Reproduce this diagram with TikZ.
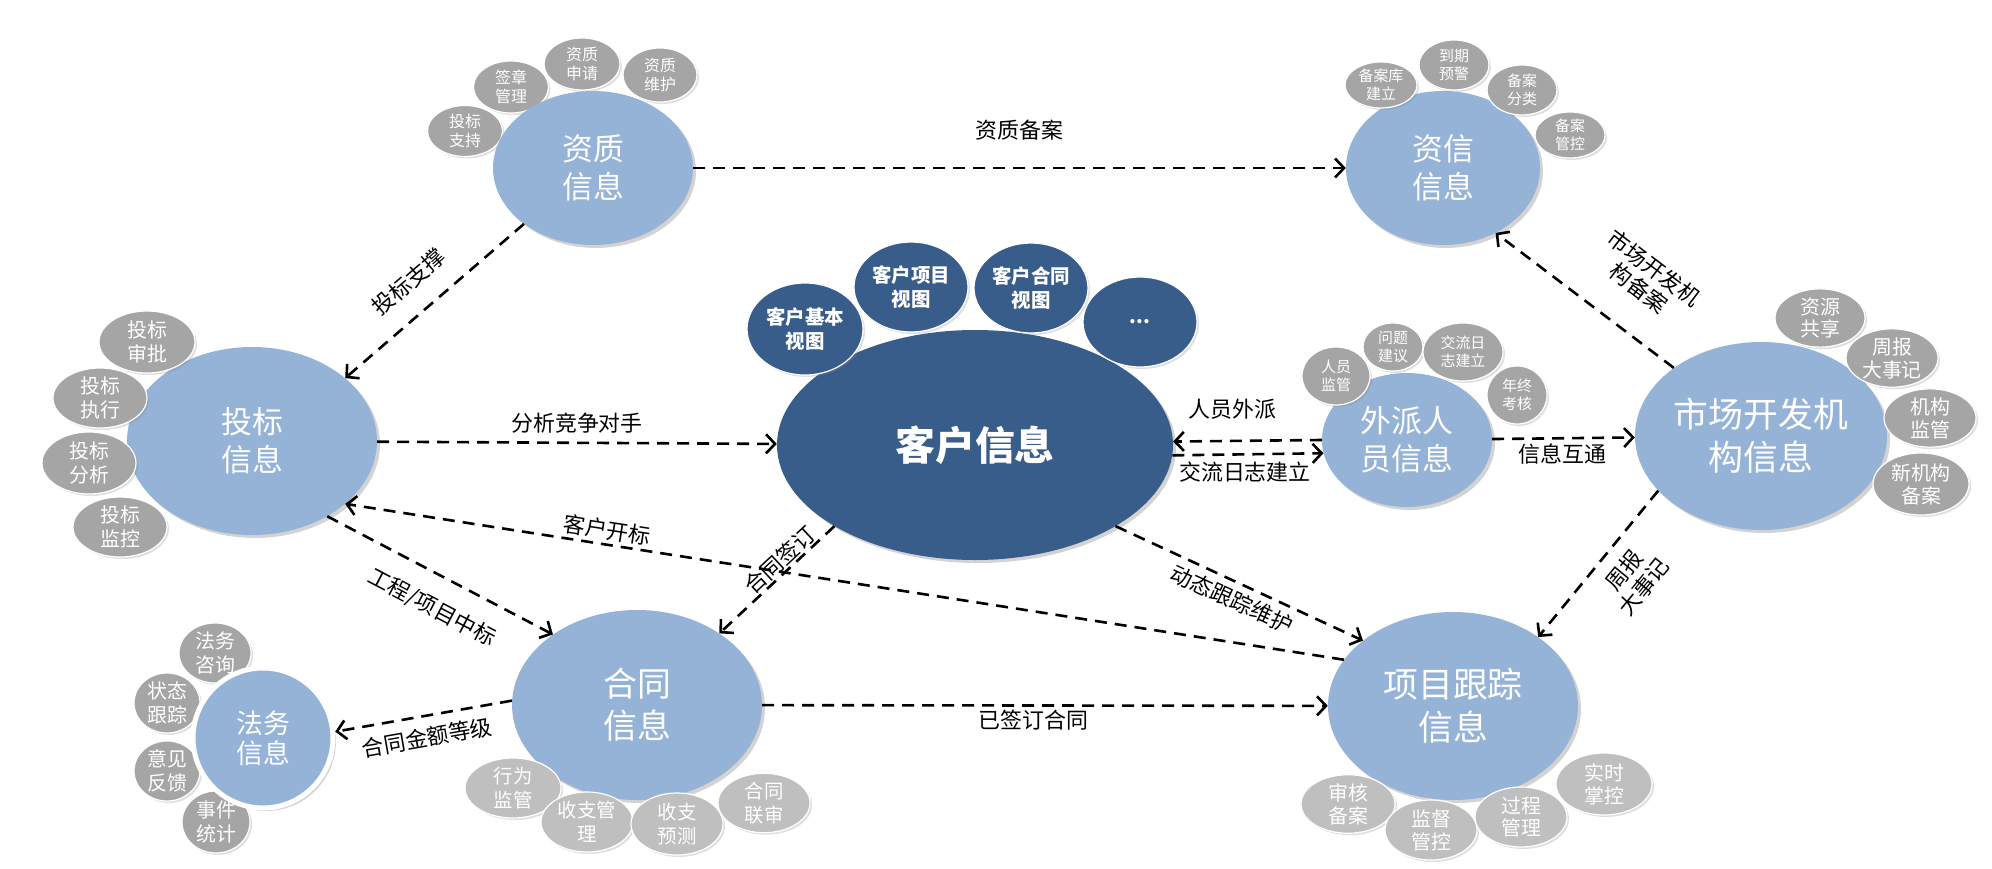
\documentclass[tikz,border=0pt]{standalone}
\usepackage{fontspec}
\setmainfont{Noto Sans CJK SC}
\usepackage{xcolor}
\usepackage{tikz}
\usetikzlibrary{shapes.geometric, arrows.meta, shadows}

\definecolor{lanse}{HTML}{95B3D7}
\definecolor{shenlan}{HTML}{385D8A}
\definecolor{huise}{HTML}{A5A5A5}
\definecolor{qianhui}{HTML}{BFBFBF}

\begin{document}
\begin{tikzpicture}[x=1bp, y=-1bp,
    zhu/.style={ellipse, fill=lanse, text=white, align=center, inner sep=0pt,
        font=\fontsize{31}{38}\selectfont,
        drop shadow={shadow xshift=3bp, shadow yshift=-3bp, opacity=0.35}},
    fu/.style={ellipse, fill=huise, draw=white, line width=1.2bp, text=white,
        align=center, inner sep=0pt, font=\fontsize{20}{24}\selectfont,
        drop shadow={shadow xshift=2bp, shadow yshift=-2bp, opacity=0.25}},
    wh/.style 2 args={minimum width=#1bp, minimum height=#2bp},
    lian/.style={line width=2.6bp, dash pattern=on 12bp off 8bp,
        -{Straight Barb[length=9bp, width=19bp]}},
    biao/.style={font=\fontsize{22}{25}\selectfont, text=black, inner sep=1bp, align=center},
]
    \useasboundingbox (0,0) rectangle (1992,869);

    % 资质信息（小圆在后）
    \begin{scope}[fu/.append style={font=\fontsize{16}{19}\selectfont}]
        \node[fu, wh={75}{51}] (tbzc) at (465,131) {投标\\支持};
        \node[fu, wh={75}{52}] (qzgl) at (511,87) {签章\\管理};
        \node[fu, wh={76}{52}] (zzsq) at (582,64) {资质\\申请};
        \node[fu, wh={74}{54}] (zzwh) at (660,75) {资质\\维护};
    \end{scope}
    \node[zhu, wh={200}{154}] (zizhi) at (593,168) {资质\\信息};

    % 资信信息
    \node[zhu, wh={194}{154}] (zixin) at (1443,168) {资信\\信息};
    \begin{scope}[fu/.append style={font=\fontsize{15}{18}\selectfont}]
        \node[fu, wh={72}{46}] (bakjl) at (1381,85) {备案库\\建立};
        \node[fu, wh={70}{50}] (dqyj) at (1454,65) {到期\\预警};
        \node[fu, wh={70}{50}] (bafl) at (1522,90) {备案\\分类};
        \node[fu, wh={70}{46}] (bagk) at (1570,135) {备案\\管控};
    \end{scope}

    % 客户信息
    \node[zhu, fill=shenlan, wh={396}{230}, font=\fontsize{40}{46}\selectfont\bfseries] (kehu) at (975,445) {客户信息};
    \begin{scope}[fu/.append style={fill=shenlan, font=\fontsize{19.5}{24}\selectfont\bfseries}]
        \node[fu, wh={116}{92}] (jbst) at (805,329) {客户基本\\视图};
        \node[fu, wh={114}{90}] (xmst) at (911,287) {客户项目\\视图};
        \node[fu, wh={114}{90}] (htst) at (1031,288) {客户合同\\视图};
        \node[fu, wh={114}{90}] (gengduo) at (1140,322) {...};
    \end{scope}

    % 投标信息
    \node[zhu, wh={250}{188}] (toubiao) at (252,441) {投标\\信息};
    \node[fu, wh={96}{62}] (tbsp) at (147,342) {投标\\审批};
    \node[fu, wh={94}{60}] (tbzx) at (100,398) {投标\\执行};
    \node[fu, wh={94}{62}] (tbfx) at (89,463) {投标\\分析};
    \node[fu, wh={94}{60}] (tbjk) at (120,527) {投标\\监控};

    % 外派人员信息
    \node[zhu, wh={170}{134}, font=\fontsize{31}{38}\selectfont] (waipai) at (1407,440) {外派人\\员信息};
    \begin{scope}[fu/.append style={font=\fontsize{15}{18}\selectfont}]
        \node[fu, wh={68}{58}] (rygl) at (1336,376) {人员\\监管};
        \node[fu, wh={60}{48}] (wtjy) at (1393,347) {问题\\建议};
        \node[fu, wh={80}{58}] (jlrz) at (1463,352) {交流日\\志建立};
        \node[fu, wh={60}{58}] (nzkh) at (1517,395) {年终\\考核};
    \end{scope}

    % 市场开发机构信息
    \node[zhu, wh={252}{188}, font=\fontsize{35}{43}\selectfont] (shichang) at (1761,436) {市场开发机\\构信息};
    \begin{scope}[fu/.append style={font=\fontsize{20}{23}\selectfont}]
        \node[fu, wh={90}{58}] (zygx) at (1820,318) {资源\\共享};
        \node[fu, wh={92}{56}] (zbdsj) at (1892,358) {周报\\大事记};
        \node[fu, wh={92}{56}] (jgjg) at (1930,418) {机构\\监管};
        \node[fu, wh={96}{62}] (xjgba) at (1921,484) {新机构\\备案};
    \end{scope}

    % 法务信息（小圆在后）
    \node[fu, wh={72}{60}] (fwzx) at (215,653) {法务\\咨询};
    \node[fu, wh={66}{60}] (ztgz) at (167,703) {状态\\跟踪};
    \node[fu, wh={66}{58}] (yjfk) at (167,771) {意见\\反馈};
    \node[fu, wh={68}{62}] (sjtj) at (216,822) {事件\\统计};
    \node[zhu, circle, minimum size=140bp, draw=white, line width=5bp,
        font=\fontsize{27}{30}\selectfont] (fawu) at (263,738) {法务\\信息};

    % 合同信息
    \node[zhu, wh={250}{190}, font=\fontsize{34}{42}\selectfont] (hetong) at (637,705) {合同\\信息};
    \begin{scope}[fu/.append style={fill=qianhui, font=\fontsize{19.5}{24}\selectfont}]
        \node[fu, wh={96}{60}] (xwjg) at (513,788) {行为\\监管};
        \node[fu, wh={92}{60}] (szgl) at (587,822) {收支管\\理};
        \node[fu, wh={92}{62}] (szyc) at (677,824) {收支\\预测};
        \node[fu, wh={92}{56}] (htls) at (764,803) {合同\\联审};
    \end{scope}

    % 项目跟踪信息
    \node[zhu, wh={250}{188}, font=\fontsize{35}{43}\selectfont] (xiangmu) at (1453,706) {项目跟踪\\信息};
    \begin{scope}[fu/.append style={fill=qianhui, font=\fontsize{20}{23}\selectfont}]
        \node[fu, wh={94}{58}] (shba) at (1348,804) {审核\\备案};
        \node[fu, wh={92}{60}] (jdgk) at (1431,830) {监督\\管控};
        \node[fu, wh={92}{60}] (gcgl) at (1521,817) {过程\\管理};
        \node[fu, wh={96}{62}] (sszk) at (1604,784) {实时\\掌控};
    \end{scope}

    % 连线
    \draw[lian] (zizhi) -- (zixin) node[biao, pos=0.5, above=25bp] {资质备案};
    \draw[lian] (zizhi.219) -- (toubiao.34) node[biao, pos=0.53, sloped, above=19bp] {投标支撑};
    \draw[lian] (toubiao) -- (kehu) node[biao, pos=0.5, above=7bp] {分析竞争对手};
    \draw[lian] (xiangmu.157) -- (toubiao.-34) node[biao, pos=0.74, sloped, above=2bp] {客户开标};
    \draw[lian] (toubiao.-45) -- (hetong.140) node[biao, pos=0.53, sloped, below=19bp] {工程/项目中标};
    \draw[lian] (kehu.210) -- (hetong.41) node[biao, pos=0.4, sloped, above=0bp] {合同签订};
    \draw[lian] (kehu.-30) -- (xiangmu.144) node[biao, pos=0.5, sloped, below=5bp] {动态跟踪维护};
    \draw[lian] (hetong.178) -- (fawu.5) node[biao, pos=0.5, sloped, below=9bp] {合同金额等级};
    \draw[lian] (hetong) -- (xiangmu) node[biao, pos=0.48, below=2bp] {已签订合同};
    \draw[lian] (waipai.west) -- (kehu.1) node[biao, pos=0.6, above=19bp] {人员外派};
    \draw[lian] (kehu.-3) -- (waipai.189) node[biao, pos=0.48, below=5bp] {交流日志建立};
    \draw[lian] (waipai) -- (shichang) node[biao, pos=0.49, below=3bp] {信息互通};
    \draw[lian] (shichang.142) -- (zixin.-51) node[biao, pos=0.34, sloped, above=30bp] {市场开发机\\构备案};
    \draw[lian] (shichang.-152) -- (xiangmu.39) node[biao, pos=0.44, sloped, below=12bp] {周报\\大事记};
\end{tikzpicture}
\end{document}
